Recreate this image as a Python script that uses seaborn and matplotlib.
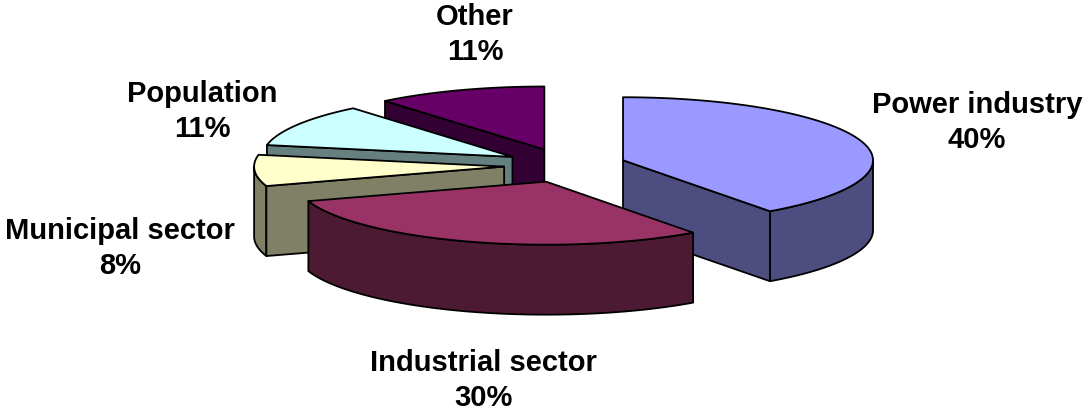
import numpy as np
import matplotlib
matplotlib.use("Agg")
import matplotlib.pyplot as plt
import matplotlib.colors as mcolors
from matplotlib.patches import Polygon
import seaborn as sns

# Emission sources and their shares (%)
categories = ["Power industry", "Industrial sector", "Municipal sector", "Population", "Other"]
shares = [40, 30, 8, 11, 11]
top_colors = ["#9999FF", "#993366", "#FFFFCC", "#CCFFFF", "#660066"]

# label anchors: centre x and first-line baseline y (pixels)
label_pos = {
    "Power industry": (977, 113),
    "Industrial sector": (483, 371),
    "Municipal sector": (120, 239),
    "Population": (202, 102),
    "Other": (475, 25),
}
LINE_GAP = 35

sns.set_theme(style="white")
plt.rcParams["font.family"] = ["Liberation Sans", "DejaVu Sans"]

W, H = 1090, 412
fig = plt.figure(figsize=(W / 100, H / 100), dpi=100)
ax = fig.add_axes([0, 0, 1, 1])
ax.set_xlim(0, W)
ax.set_ylim(H, 0)
ax.axis("off")

# 3-D pie geometry (pixel units)
CX, CY = 565, 165.5
RX, RY = 250, 63
DEPTH = 70
EXP_X, EXP_Y = 61, 17
LW = 1.3


def shade(c, f=0.5):
    r, g, b = mcolors.to_rgb(c)
    return (r * f, g * f, b * f)


def rim(cx, cy, ang):
    t = np.radians(ang)
    return cx + RX * np.sin(t), cy - RY * np.cos(t)


def face(pts, color):
    ax.add_patch(Polygon(pts, closed=True, facecolor=color, edgecolor="black",
                         linewidth=LW, joinstyle="round"))


fracs = np.asarray(shares, dtype=float) / np.sum(shares)
bounds = np.concatenate([[0.0], np.cumsum(fracs) * 360.0])

slices = []
for i, name in enumerate(categories):
    a0, a1 = bounds[i], bounds[i + 1]
    mid = np.radians((a0 + a1) / 2)
    cx = CX + EXP_X * np.sin(mid)
    cy = CY - EXP_Y * np.cos(mid)
    slices.append((cy, cx, a0, a1, top_colors[i]))

# paint from back to front
for cy, cx, a0, a1, col in sorted(slices, key=lambda s: s[0]):
    side = shade(col)
    lo, hi = max(a0, 90.0), min(a1, 270.0)
    if hi > lo:
        xs, ys = rim(cx, cy, np.linspace(lo, hi, 120))
        face(np.column_stack([np.r_[xs, xs[::-1]], np.r_[ys, ys[::-1] + DEPTH]]), side)
    if np.sin(np.radians(a0)) < -1e-9:
        x, y = rim(cx, cy, a0)
        face([(cx, cy), (x, y), (x, y + DEPTH), (cx, cy + DEPTH)], side)
    if np.sin(np.radians(a1)) > 1e-9:
        x, y = rim(cx, cy, a1)
        face([(cx, cy), (x, y), (x, y + DEPTH), (cx, cy + DEPTH)], side)
    xs, ys = rim(cx, cy, np.linspace(a0, a1, 240))
    face(np.column_stack([np.r_[cx, xs], np.r_[cy, ys]]), col)

FS = 21
for name, val in zip(categories, shares):
    x, y = label_pos[name]
    ax.text(x, y, name, ha="center", va="baseline", fontsize=FS, fontweight="bold", color="black")
    ax.text(x, y + LINE_GAP, f"{val}%", ha="center", va="baseline", fontsize=FS,
            fontweight="bold", color="black")

fig.savefig("out.png", dpi=100, facecolor="white")
